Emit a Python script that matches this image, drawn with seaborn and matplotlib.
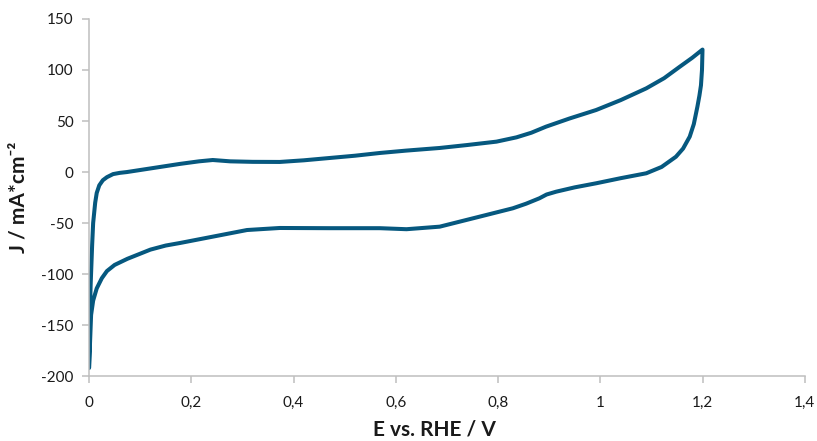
import matplotlib.pyplot as plt
import numpy as np
import pandas as pd
import seaborn as sns

# anodic scan (upper branch), 0 -> 1.2 V
e_up = [0.001, 0.003, 0.006, 0.008, 0.012, 0.015, 0.02, 0.027, 0.035, 0.047, 0.06, 0.074, 0.1, 0.139,
        0.178, 0.215, 0.242, 0.276, 0.32, 0.373, 0.42, 0.471, 0.52, 0.569, 0.62, 0.686, 0.74, 0.797,
        0.836, 0.865, 0.894, 0.94, 0.992, 1.04, 1.09, 1.125, 1.155, 1.18, 1.2]
j_up = [-155, -112, -72, -50, -30, -20.5, -13, -8, -5, -2, -0.8, 0, 2, 5,
        8, 10.5, 11.8, 10.5, 10, 9.9, 11.5, 13.8, 16, 18.7, 21, 23.6, 26.5, 29.8,
        34, 38.5, 44.5, 52.5, 60.8, 70.5, 82, 92, 103, 112, 120]

# cathodic scan (lower branch), 1.2 -> 0 V
e_down = [1.2, 1.199, 1.197, 1.194, 1.19, 1.183, 1.175, 1.162, 1.148, 1.12, 1.09, 1.04, 0.992, 0.95,
          0.914, 0.895, 0.881, 0.855, 0.829, 0.764, 0.686, 0.621, 0.569, 0.47, 0.373, 0.309, 0.242,
          0.178, 0.15, 0.12, 0.1, 0.075, 0.05, 0.035, 0.025, 0.015, 0.008, 0.004, 0.0, 0.001]
j_down = [120, 100, 85, 75, 64, 47, 34.7, 23, 15, 5, -1.2, -6, -11, -15,
          -19.2, -22, -25.7, -31, -35.5, -43.7, -53.5, -56, -55, -55, -54.8, -56.8, -63.3,
          -69.5, -72, -76, -80, -85, -91, -97, -104, -114, -126, -140, -192, -155]

df = pd.DataFrame({
    'E': e_up + e_down,
    'J': j_up + j_down,
})

sns.set_theme(style='white')
plt.rcParams['font.family'] = ['Lato', 'DejaVu Sans']

fig, ax = plt.subplots(figsize=(8.17, 4.41), dpi=100)
fig.subplots_adjust(left=0.109, right=0.985, bottom=0.147, top=0.957)

sns.lineplot(data=df, x='E', y='J', sort=False, estimator=None, color='#06587F',
             linewidth=2.9, ax=ax)
ax.lines[0].set_solid_joinstyle('round')
ax.lines[0].set_solid_capstyle('round')

ax.set_xlim(0, 1.4)
ax.set_ylim(-200, 150)
xt = [0, 0.2, 0.4, 0.6, 0.8, 1, 1.2, 1.4]
xl = ['0', '0,2', '0,4', '0,6', '0,8', '1', '1,2', '1,4']
yt = [-200, -150, -100, -50, 0, 50, 100, 150]
ax.set_xticks(xt)
ax.set_xticklabels(xl)
ax.set_yticks(yt)
ax.set_yticklabels([str(v) for v in yt])

sns.despine(ax=ax)
for s in ['left', 'bottom']:
    ax.spines[s].set_color('#BFBFBF')
    ax.spines[s].set_linewidth(1.1)
ax.tick_params(axis='both', which='major', direction='out', length=5, width=1.1,
               color='#BFBFBF', labelsize=11, labelcolor='#1a1a1a', pad=6,
               bottom=True, left=True)
ax.tick_params(axis='x', pad=9)

ax.set_xlabel('E vs. RHE / V', fontsize=15, fontweight='bold', color='#1a1a1a')
ax.set_ylabel('J / mA*cm\u207b\u00b2', fontsize=15, fontweight='bold', color='#1a1a1a')
ax.xaxis.set_label_coords(0.482, -0.12)
ax.yaxis.set_label_coords(-0.085, 0.5)

fig.savefig('out.png', dpi=100)
